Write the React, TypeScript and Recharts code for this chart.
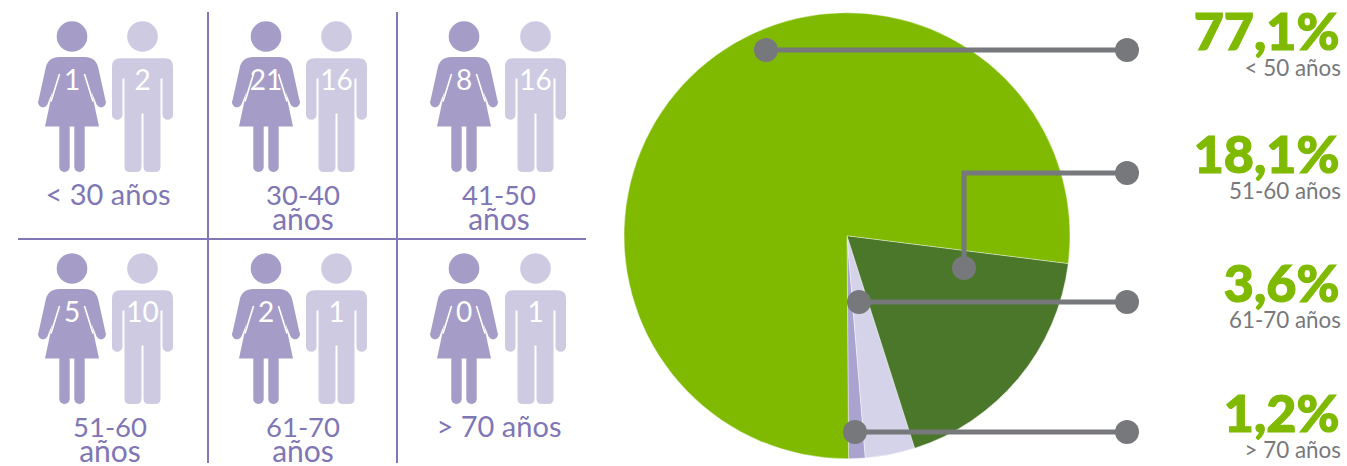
import React from "react";
import {
  PieChart,
  Pie,
  Cell,
  ScatterChart,
  Scatter,
  XAxis,
  YAxis,
  ReferenceLine,
} from "recharts";

// people per age group
const ageGroups = ["< 30 años", "30-40 años", "41-50 años", "51-60 años", "61-70 años", "> 70 años"];
const women = [1, 21, 8, 5, 2, 0];
const men = [2, 16, 16, 10, 1, 1];

// pie shares, in draw order from 6 o'clock going counter clockwise
const shareNames = ["> 70 años", "61-70 años", "51-60 años", "< 50 años"];
const shareValues = [1.2, 3.6, 18.1, 77.1];
const shareColors = ["#aaa3d0", "#d5d3ea", "#4a7729", "#7fba00"];

// layout of the pictogram grid
const womanX = [72, 266, 464];
const manX = [142.5, 336.5, 535.5];
const captionX = [[108, 303, 499], [110, 303, 499]];
const rowY = [36.5, 268.5];
const gridColor = "#8378b7";
const font = "Lato, sans-serif";

// leader line anchors per slice: dot on the pie, elbow (optional), text baseline
const leaders = [
  { path: [[855, 432], [1127, 432]], base: 432 },
  { path: [[859, 302], [1127, 302]], base: 302 },
  { path: [[964, 268], [964, 173], [1127, 173]], base: 173 },
  { path: [[766, 50], [1127, 50]], base: 50 },
];

const people = ageGroups.flatMap((group, i) => {
  const col = i % 3;
  const row = Math.floor(i / 3);
  return [
    { kind: "w", x: womanX[col], y: rowY[row], count: women[i] },
    { kind: "m", x: manX[col], y: rowY[row], count: men[i] },
  ];
});

const captions = ageGroups.map((group, i) => ({
  x: captionX[Math.floor(i / 3)][i % 3],
  y: rowY[Math.floor(i / 3)],
  group,
}));

const womanPath =
  "M-13 20.5H13C20 20.5 24 24 26 30L33.4 63.5A4.7 4.7 0 0 1 24.6 68L19.5 55L27 90H-27L-19.5 55L-24.6 68A4.7 4.7 0 0 1 -33.4 63.5L-26 30C-24 24 -20 20.5 -13 20.5Z";

const manPath =
  "M-22 21.7H22Q30.5 21.7 30.5 30V78A5.2 5.2 0 0 1 20 78V42H18V130Q18 135.5 12.5 135.5H6.5Q1 135.5 1 130V77H-1V130Q-1 135.5 -6.5 135.5H-12.5Q-18 135.5 -18 130V42H-20V78A5.2 5.2 0 0 1 -30.5 78V30Q-30.5 21.7 -22 21.7Z";

const Person = ({ cx, cy, payload }: any) => {
  const isWoman = payload.kind === "w";
  const fill = isWoman ? "#a59dc8" : "#cdcae2";
  return (
    <g transform={`translate(${cx},${cy})`}>
      <circle r={15.3} fill={fill} />
      {isWoman ? (
        <g>
          <path d={womanPath} fill={fill} />
          <line x1={-12.5} y1={37.5} x2={-21} y2={65} stroke="#fff" strokeWidth={1.6} />
          <line x1={12.5} y1={37.5} x2={21} y2={65} stroke="#fff" strokeWidth={1.6} />
          <rect x={-12.7} y={85} width={10.4} height={50.5} rx={5} fill={fill} />
          <rect x={2.3} y={85} width={10.4} height={50.5} rx={5} fill={fill} />
        </g>
      ) : (
        <path d={manPath} fill={fill} />
      )}
      <text y={53.5} textAnchor="middle" fontFamily={font} fontSize={28} fill="#fff">
        {payload.count}
      </text>
    </g>
  );
};

const Caption = ({ cx, cy, payload }: any) => {
  const twoLines = /^\d/.test(payload.group);
  const lines = twoLines ? payload.group.split(" ") : [payload.group];
  return (
    <g>
      {lines.map((line: string, i: number) => (
        <text
          key={line}
          x={cx}
          y={cy + 168 + i * 25.5}
          textAnchor="middle"
          fontFamily={font}
          fontSize={twoLines ? (i === 0 ? 27.5 : 30) : 29}
          fill="#7f76b5"
        >
          {line}
        </text>
      ))}
    </g>
  );
};

const LeaderLabel = ({ index, value, name }: any) => {
  const leader = leaders[index];
  if (!leader) return null;
  const pts = leader.path;
  const first = pts[0];
  const last = pts[pts.length - 1];
  return (
    <g>
      <polyline
        points={pts.map((p) => p.join(",")).join(" ")}
        fill="none"
        stroke="#77787b"
        strokeWidth={5}
      />
      <circle cx={first[0]} cy={first[1]} r={12} fill="#77787b" />
      <circle cx={last[0]} cy={last[1]} r={12} fill="#77787b" />
      <text
        x={1339.5}
        y={leader.base}
        textAnchor="end"
        fontFamily={font}
        fontWeight={900}
        fontSize={52}
        fill="#7fba00"
        stroke="#7fba00"
        strokeWidth={1.2}
      >
        {String(value).replace(".", ",")}%
      </text>
      <text
        x={1341}
        y={leader.base + 26}
        textAnchor="end"
        fontFamily={font}
        fontSize={22.4}
        fill="#77787b"
      >
        {name}
      </text>
    </g>
  );
};

const pieData = shareNames.map((name, i) => ({ name, value: shareValues[i] }));

export default function App() {
  return (
    <div style={{ position: "absolute", left: 0, top: 0, width: 1347, height: 466, background: "#fff" }}>
      <div style={{ position: "absolute", left: 0, top: 0 }}>
        <PieChart width={1347} height={466} margin={{ top: 0, right: 0, bottom: 0, left: 0 }}>
          <Pie
            data={pieData}
            dataKey="value"
            nameKey="name"
            cx={847}
            cy={235.7}
            outerRadius={223}
            startAngle={-89.6}
            endAngle={270.4}
            stroke="#fff"
            strokeWidth={0.4}
            label={LeaderLabel}
            labelLine={false}
            isAnimationActive={false}
          >
            {pieData.map((d, i) => (
              <Cell key={d.name} fill={shareColors[i]} />
            ))}
          </Pie>
        </PieChart>
      </div>
      <div style={{ position: "absolute", left: 0, top: 0 }}>
        <ScatterChart width={600} height={466} margin={{ top: 0, right: 0, bottom: 0, left: 0 }}>
          <XAxis type="number" dataKey="x" domain={[0, 600]} hide />
          <YAxis type="number" dataKey="y" domain={[0, 466]} reversed hide />
          <ReferenceLine segment={[{ x: 208, y: 12 }, { x: 208, y: 463 }]} stroke={gridColor} strokeWidth={2} />
          <ReferenceLine segment={[{ x: 397, y: 12 }, { x: 397, y: 463 }]} stroke={gridColor} strokeWidth={2} />
          <ReferenceLine segment={[{ x: 18, y: 239 }, { x: 586, y: 239 }]} stroke={gridColor} strokeWidth={2} />
          <Scatter data={people} shape={Person} isAnimationActive={false} />
          <Scatter data={captions} shape={Caption} isAnimationActive={false} />
        </ScatterChart>
      </div>
    </div>
  );
}
